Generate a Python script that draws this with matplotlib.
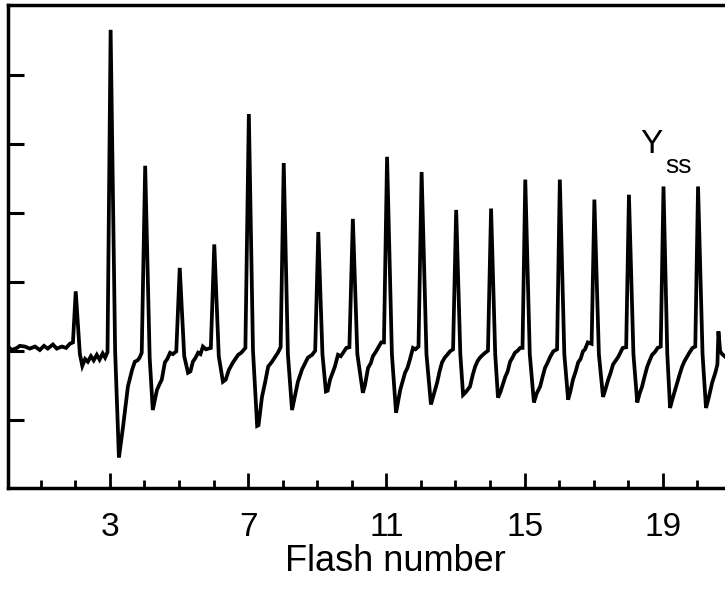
import numpy as np
import matplotlib.pyplot as plt

plt.rcParams['font.family'] = ['Liberation Sans', 'DejaVu Sans']

# trace, one row per flash (x = flash number, y = signal)
trace_x = [
    0.05, 0.16, 0.31, 0.39, 0.54, 0.68, 0.83, 0.97, 1.09, 1.20, 1.35, 1.46, 1.61, 1.73, 1.84, 1.93,
    2.01, 2.13, 2.20, 2.28, 2.36, 2.45, 2.53, 2.62, 2.70, 2.79, 2.86, 2.93,
    3.02, 3.15, 3.26, 3.38, 3.52, 3.64, 3.72, 3.80, 3.86, 3.92,
    4.02, 4.15, 4.24, 4.36, 4.44, 4.50, 4.59, 4.66, 4.74, 4.82, 4.92,
    5.02, 5.15, 5.26, 5.33, 5.40, 5.48, 5.55, 5.62, 5.69, 5.78, 5.92,
    6.02, 6.15, 6.27, 6.35, 6.44, 6.56, 6.63, 6.71, 6.80, 6.92,
    7.02, 7.14, 7.26, 7.30, 7.40, 7.49, 7.58, 7.69, 7.78, 7.86, 7.94,
    8.03, 8.15, 8.27, 8.36, 8.44, 8.56, 8.65, 8.73, 8.85, 8.94,
    9.03, 9.15, 9.25, 9.30, 9.37, 9.51, 9.60, 9.68, 9.75, 9.84, 9.93,
    10.03, 10.16, 10.32, 10.38, 10.47, 10.55, 10.61, 10.69, 10.76, 10.85, 10.93,
    11.02, 11.16, 11.28, 11.40, 11.54, 11.61, 11.68, 11.77, 11.84, 11.93,
    12.02, 12.16, 12.29, 12.38, 12.47, 12.54, 12.61, 12.69, 12.76, 12.84, 12.93,
    13.02, 13.14, 13.22, 13.30, 13.42, 13.50, 13.57, 13.64, 13.71, 13.79, 13.86, 13.94,
    14.03, 14.15, 14.23, 14.30, 14.44, 14.51, 14.58, 14.65, 14.72, 14.80, 14.87, 14.94,
    15.02, 15.15, 15.27, 15.35, 15.45, 15.52, 15.59, 15.66, 15.74, 15.83, 15.94,
    16.02, 16.15, 16.26, 16.33, 16.40, 16.48, 16.55, 16.62, 16.69, 16.75, 16.83, 16.94,
    17.02, 17.15, 17.27, 17.34, 17.42, 17.49, 17.56, 17.64, 17.71, 17.78, 17.84, 17.94,
    18.02, 18.15, 18.26, 18.33, 18.40, 18.48, 18.55, 18.62, 18.69, 18.77, 18.85, 18.94,
    19.02, 19.13, 19.21, 19.28, 19.42, 19.49, 19.56, 19.63, 19.70, 19.78, 19.86, 19.94,
    20.02, 20.15, 20.25, 20.32, 20.43, 20.52, 20.58, 20.61, 20.66, 20.72, 20.81,
]
trace_y = [
    0.06, 0.01, 0.04, 0.07, 0.06, 0.03, 0.06, 0.01, 0.07, 0.03, 0.09, 0.03, 0.06, 0.04, 0.10, 0.12,
    0.86, -0.05, -0.22, -0.12, -0.16, -0.08, -0.14, -0.06, -0.13, -0.04, -0.10, -0.02,
    4.65, 0.00, -1.55, -1.10, -0.52, -0.28, -0.16, -0.14, -0.10, -0.03,
    2.68, -0.10, -0.86, -0.57, -0.48, -0.42, -0.17, -0.12, -0.03, -0.05, -0.01,
    1.20, -0.08, -0.32, -0.30, -0.16, -0.10, -0.03, -0.05, 0.06, 0.02, 0.04,
    1.54, -0.08, -0.45, -0.42, -0.28, -0.17, -0.12, -0.06, -0.03, 0.04,
    3.43, 0.00, -1.09, -1.08, -0.67, -0.46, -0.23, -0.16, -0.09, -0.03, 0.05,
    2.72, -0.05, -0.86, -0.64, -0.45, -0.27, -0.18, -0.10, -0.06, 0.00,
    1.72, -0.05, -0.59, -0.58, -0.42, -0.23, -0.06, -0.08, -0.03, 0.04, 0.05,
    1.91, -0.05, -0.61, -0.50, -0.25, -0.18, -0.08, -0.02, 0.04, 0.12, 0.12,
    2.81, -0.05, -0.90, -0.57, -0.32, -0.25, -0.13, 0.04, 0.02, 0.06,
    2.59, -0.05, -0.78, -0.62, -0.46, -0.30, -0.17, -0.10, -0.06, -0.01, 0.02,
    2.04, -0.05, -0.64, -0.60, -0.52, -0.35, -0.23, -0.15, -0.10, -0.06, -0.03, 0.00,
    2.06, -0.05, -0.68, -0.60, -0.38, -0.30, -0.16, -0.10, -0.03, 0.00, 0.04, 0.04,
    2.48, -0.05, -0.75, -0.62, -0.52, -0.38, -0.25, -0.18, -0.09, -0.01, 0.02,
    2.48, -0.05, -0.71, -0.58, -0.42, -0.30, -0.17, -0.12, -0.01, 0.02, 0.12, 0.10,
    2.19, -0.05, -0.67, -0.56, -0.42, -0.32, -0.20, -0.14, -0.09, -0.02, 0.04, 0.05,
    2.26, -0.05, -0.75, -0.62, -0.52, -0.36, -0.23, -0.14, -0.06, -0.02, 0.04, 0.06,
    2.38, -0.05, -0.83, -0.70, -0.46, -0.34, -0.23, -0.15, -0.09, -0.02, 0.04, 0.06,
    2.38, -0.05, -0.83, -0.70, -0.46, -0.32, -0.20, 0.28, -0.01, -0.05, -0.09,
]

major_ticks = [3, 7, 11, 15, 19]
minor_ticks = list(range(1, 21))
y_ticks = [-1, 0, 1, 2, 3, 4]

fig = plt.figure(figsize=(7.25, 5.92), dpi=100)
ax = fig.add_axes([8/725, 104/592, 717/725, 483/592])

ax.plot(trace_x, trace_y, color='black', linewidth=2.7, solid_joinstyle='miter')

ax.set_xlim(0.05, 20.8)
ax.set_ylim(-1.99, 5.01)

ax.set_xticks(major_ticks)
ax.set_xticks(minor_ticks, minor=True)
ax.set_yticks(y_ticks)
ax.set_yticklabels([])

ax.tick_params(axis='x', which='major', direction='in', length=11, width=2,
               labelsize=24, pad=17)
ax.tick_params(axis='x', which='minor', direction='in', length=6, width=2)
ax.tick_params(axis='y', direction='in', length=11.5, width=2.2)

for side in ['left', 'top', 'bottom']:
    ax.spines[side].set_linewidth(2.5)
ax.spines['right'].set_visible(False)

ax.set_xlabel('Flash number', fontsize=26)
ax.xaxis.set_label_coords(0.54, -0.115)

ax.text(18.34, 2.87, 'Y', fontsize=24, ha='left', va='baseline')
ax.text(19.07, 2.58, 'ss', fontsize=19, ha='left', va='baseline')

plt.savefig('out.png', dpi=100)
